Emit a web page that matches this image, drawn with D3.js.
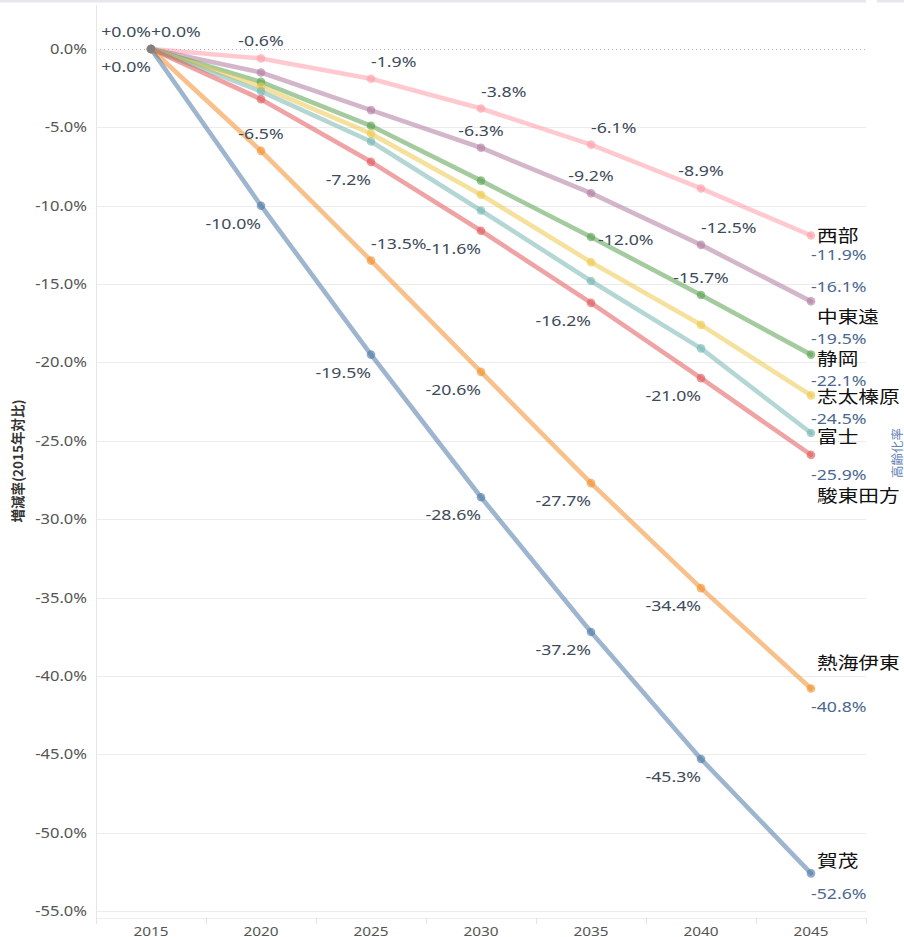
<!DOCTYPE html>
<html>
<head>
<meta charset="utf-8">
<script src="https://cdn.jsdelivr.net/npm/d3@7"></script>
<style>
  body { margin: 0; background: #fff; }
  svg { display: block; }
</style>
</head>
<body>
<svg id="chart" width="904" height="937"></svg>
<script>
// ---- data: population change vs. 2015 (%) by region ----
const years = [2015, 2020, 2025, 2030, 2035, 2040, 2045];
const regionNames = ["西部", "中東遠", "静岡", "志太榛原", "富士", "駿東田方", "熱海伊東", "賀茂"];
const seibu        = [0, -0.6, -1.9, -3.8, -6.1, -8.9, -11.9];
const chutoen      = [0, -1.5, -3.9, -6.3, -9.2, -12.5, -16.1];
const shizuoka     = [0, -2.1, -4.9, -8.4, -12.0, -15.7, -19.5];
const shidaHaibara = [0, -2.4, -5.4, -9.3, -13.6, -17.6, -22.1];
const fuji         = [0, -2.7, -5.9, -10.3, -14.8, -19.1, -24.5];
const suntoTagata  = [0, -3.2, -7.2, -11.6, -16.2, -21.0, -25.9];
const atamiIto     = [0, -6.5, -13.5, -20.6, -27.7, -34.4, -40.8];
const kamo         = [0, -10.0, -19.5, -28.6, -37.2, -45.3, -52.6];
const yTickValues  = [0, -5, -10, -15, -20, -25, -30, -35, -40, -45, -50, -55];
const yTitle = "増減率(2015年対比)";
const rightTitle = "高齢化率";

const seriesValues = [seibu, chutoen, shizuoka, shidaHaibara, fuji, suntoTagata, atamiIto, kamo];

// ---- styling / layout ----
const colors = ["#ff9da7", "#b07aa1", "#59a14f", "#edc948", "#76b7b2", "#e15759", "#f28e2b", "#4e79a7"];
const SX = 1.18;   // horizontal text stretch
// which value labels are shown and where (a=above, b=below, l/r=side, r=right of mark)
const labelPlacement = {
  "西部":     [null, "a", "ar", "ar", "ar", "a", "end"],
  "中東遠":   [null, null, null, "a", "a", "ar", "end"],
  "静岡":     [null, null, null, null, "r", "a", "end"],
  "志太榛原": [null, null, null, null, null, null, "end"],
  "富士":     [null, null, null, null, null, null, "end"],
  "駿東田方": [null, null, "bl", "bl", "bl", "bl", "end"],
  "熱海伊東": ["bl", "a", "ar", "bl", "bl", "bl", "end"],
  "賀茂":     ["al", "bl", "bl", "bl", "bl", "bl", "end"]
};
const zeroAboveRight = "西部";
// end-of-line value / name offsets
const endValueDy = {"西部": 19, "中東遠": -15, "静岡": -16, "志太榛原": -15, "富士": -14.5, "駿東田方": 19.5, "熱海伊東": 18, "賀茂": 20};
const endNameDy  = {"西部": 0, "中東遠": 15, "静岡": 4, "志太榛原": 1.5, "富士": 3.5, "駿東田方": 41, "熱海伊東": -26, "賀茂": -13};

const locale = d3.formatLocale({decimal: ".", thousands: ",", grouping: [3], currency: ["", ""], minus: "-"});
const f1 = locale.format(".1f");
const fmt = v => (v >= 0 ? "+" : "") + f1(v) + "%";

const svg = d3.select("#chart");
const plot = {left: 96, right: 866, top: 5, zeroY: 49, bottomY: 911};

const x = d3.scaleBand().domain(years).range([plot.left, plot.right]).padding(0);
const cx = d => x(d) + x.bandwidth() / 2;
const y = d3.scaleLinear().domain([0, -55]).range([plot.zeroY, plot.bottomY]);

// top frame strip
svg.append("rect").attr("x", 0).attr("y", 0).attr("width", 866).attr("height", 2.5).attr("fill", "#e4e7eb");
svg.append("rect").attr("x", 877).attr("y", 0).attr("width", 27).attr("height", 2.5).attr("fill", "#e4e7eb");

// gridlines
const grid = svg.append("g");
grid.selectAll("line.g").data(yTickValues.filter(v => v !== 0)).join("line")
  .attr("x1", plot.left).attr("x2", plot.right)
  .attr("y1", d => Math.round(y(d)) + 0.5).attr("y2", d => Math.round(y(d)) + 0.5)
  .attr("stroke", "#ececec").attr("stroke-width", 1);
// zero reference line
grid.append("line").attr("x1", plot.left).attr("x2", plot.right)
  .attr("y1", Math.round(y(0)) + 0.5).attr("y2", Math.round(y(0)) + 0.5)
  .attr("stroke", "#b5b5b5").attr("stroke-width", 1).attr("stroke-dasharray", "1,3");
// left axis rule
grid.append("line").attr("x1", plot.left + 0.5).attr("x2", plot.left + 0.5)
  .attr("y1", plot.top).attr("y2", 923).attr("stroke", "#e6e6e6");
// x axis rule and band separators
grid.append("line").attr("x1", plot.left).attr("x2", plot.right)
  .attr("y1", 918.5).attr("y2", 918.5).attr("stroke", "#eeeeee");
const seps = years.map(d => x(d)).concat([plot.right]);
grid.selectAll("line.sep").data(seps).join("line")
  .attr("x1", d => Math.round(d) + 0.5).attr("x2", d => Math.round(d) + 0.5)
  .attr("y1", 918).attr("y2", 924).attr("stroke", "#e3e3e3");

// text helper with horizontal stretch
function stretchedText(g, px, py, str, anchor, opts) {
  const gg = g.append("g").attr("transform", `translate(${px},${py}) scale(${SX},1)`);
  return gg.append("text").attr("x", 0).attr("y", 0).attr("dy", "0.36em")
    .attr("text-anchor", anchor)
    .attr("font-family", opts.family || "'Noto Sans', sans-serif")
    .attr("font-size", opts.size)
    .attr("font-weight", opts.weight || "normal")
    .attr("fill", opts.fill)
    .text(str);
}

// y axis tick labels
const yAxisG = svg.append("g");
yTickValues.forEach(v => {
  stretchedText(yAxisG, 87, y(v), f1(v) + "%", "end", {size: 14, fill: "#555"});
});
// x axis labels
const xAxisG = svg.append("g");
years.forEach(yr => {
  stretchedText(xAxisG, cx(yr), 931, String(yr), "middle", {size: 13, fill: "#555"});
});

// axis titles
svg.append("text")
  .attr("transform", `translate(18,461) rotate(-90)`)
  .attr("text-anchor", "middle").attr("dy", "0.36em")
  .attr("font-family", "'Noto Sans CJK JP', sans-serif").attr("font-size", 13.5).attr("font-weight", "bold")
  .attr("fill", "#333").text(yTitle);
svg.append("text")
  .attr("transform", `translate(897,453) rotate(-90)`)
  .attr("text-anchor", "middle").attr("dy", "0.36em")
  .attr("font-family", "'Noto Sans CJK JP', sans-serif").attr("font-size", 12.5)
  .attr("fill", "#5f82b5").text(rightTitle);

// lines and markers
const line = d3.line().x((d, i) => cx(years[i])).y(d => y(d));
const marks = svg.append("g");
seriesValues.forEach((vals, si) => {
  marks.append("path").datum(vals).attr("d", line)
    .attr("fill", "none").attr("stroke", colors[si]).attr("stroke-width", 4.6)
    .attr("stroke-opacity", 0.55).attr("stroke-linejoin", "round").attr("stroke-linecap", "round");
});
seriesValues.forEach((vals, si) => {
  marks.selectAll(null).data(vals).join("circle")
    .attr("cx", (d, i) => cx(years[i])).attr("cy", d => y(d)).attr("r", 4.3)
    .attr("fill", colors[si]).attr("fill-opacity", 0.62);
});

// value labels
const labelsG = svg.append("g");
const offsets = {
  a:  {anchor: "middle", dx: 0, dy: -17.5},
  ar: {anchor: "start",  dx: 0, dy: -17},
  al: {anchor: "end",    dx: 0, dy: -17.5},
  b:  {anchor: "middle", dx: 0, dy: 18},
  bl: {anchor: "end",    dx: 0, dy: 17.5},
  br: {anchor: "start",  dx: 0, dy: 18.5},
  r:  {anchor: "start",  dx: 7, dy: 2.5}
};
seriesValues.forEach((vals, si) => {
  const name = regionNames[si];
  const place = labelPlacement[name];
  vals.forEach((v, i) => {
    const p = place[i];
    if (!p) return;
    const px = cx(years[i]), py = y(v);
    if (p === "end") {
      stretchedText(labelsG, px, py + endValueDy[name], fmt(v), "start", {size: 15, fill: "#4a6790"});
      stretchedText(labelsG, px + 6, py + endNameDy[name], name, "start",
        {size: 17.5, fill: "#111", family: "'Noto Sans CJK JP', sans-serif"});
    } else {
      const o = offsets[p];
      stretchedText(labelsG, px + o.dx, py + o.dy, fmt(v), o.anchor, {size: 15, fill: "#3d4a5a"});
    }
  });
});
// second zero label above-right of the common origin
stretchedText(labelsG, cx(years[0]), y(0) - 17.5, fmt(seriesValues[regionNames.indexOf(zeroAboveRight)][0]), "start", {size: 15, fill: "#3d4a5a"});
</script>
</body>
</html>
